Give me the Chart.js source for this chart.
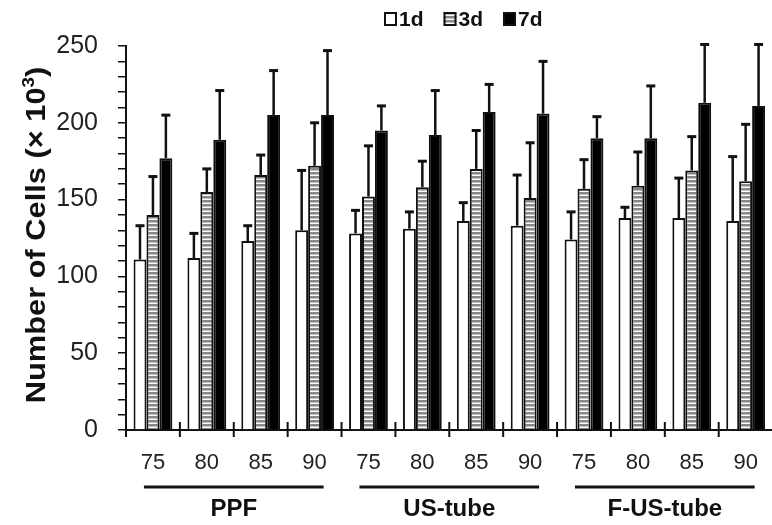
<!DOCTYPE html>
<html>
<head>
<meta charset="utf-8">
<script src="https://cdn.jsdelivr.net/npm/chart.js@4"></script>
<style>
  html, body { margin: 0; padding: 0; overflow: hidden; background: #fff; }
</style>
</head>
<body>
<canvas id="chart" width="778" height="525"></canvas>
<script>
// data
const categories = ['75', '80', '85', '90', '75', '80', '85', '90', '75', '80', '85', '90'];
const groups = ['PPF', 'US-tube', 'F-US-tube'];
const seriesNames = ['1d', '3d', '7d'];
const day1 = [111, 112, 123, 130, 128, 131, 136, 133, 124, 138, 138, 136];
const day1Err = [22, 16, 10, 39, 15, 11, 12, 33, 18, 7, 26, 42];
const day3 = [140, 155, 166, 172, 152, 158, 170, 151, 157, 159, 169, 162];
const day3Err = [25, 15, 13, 28, 33, 17, 25, 36, 19, 22, 22, 37];
const day7 = [177, 189, 205, 205, 195, 192, 207, 206, 190, 190, 213, 211];
const day7Err = [28, 32, 29, 42, 16, 29, 18, 34, 14, 34, 38, 40];
const yTicks = [0, 50, 100, 150, 200, 250];

const FONT = "'Liberation Sans', Arial, sans-serif";
Chart.defaults.font.family = FONT;

// horizontal stripes for the 3d bars
function stripes() {
    const c = document.createElement('canvas');
    c.width = 4; c.height = 4;
    const g = c.getContext('2d');
    g.fillStyle = '#fff'; g.fillRect(0, 0, 4, 4);
    g.fillStyle = '#888'; g.fillRect(0, 0, 4, 2);
    g.fillStyle = '#c0c0c0'; g.fillRect(0, 2, 4, 1);
    return g.createPattern(c, 'repeat');
}
const stripeFill = stripes();

const extras = {
    id: 'extras',
    afterDatasetsDraw(chart) {
        // upward error bars
        const ctx = chart.ctx, y = chart.scales.y;
        ctx.save();
        ctx.strokeStyle = '#111';
        chart.data.datasets.forEach((ds, d) => {
            chart.getDatasetMeta(d).data.forEach((bar, i) => {
                const top = y.getPixelForValue(ds.data[i] + ds.errors[i]);
                ctx.lineWidth = 2.5;
                ctx.beginPath(); ctx.moveTo(bar.x, bar.y); ctx.lineTo(bar.x, top); ctx.stroke();
                ctx.lineWidth = 3;
                ctx.beginPath(); ctx.moveTo(bar.x - 4.5, top); ctx.lineTo(bar.x + 4.5, top); ctx.stroke();
            });
        });
        ctx.restore();
    },
    afterDraw(chart) {
        const ctx = chart.ctx, x = chart.scales.x, area = chart.chartArea;
        const half = (x.getPixelForValue(1) - x.getPixelForValue(0)) / 2;
        ctx.save();
        ctx.strokeStyle = '#111';
        ctx.fillStyle = '#111';

        // category separators crossing the x axis
        ctx.lineWidth = 2;
        for (let i = 0; i < categories.length; i++) {
            const px = x.getPixelForValue(i) - half;
            ctx.beginPath(); ctx.moveTo(px, area.bottom - 8); ctx.lineTo(px, area.bottom + 7); ctx.stroke();
        }

        // group lines and names
        ctx.font = 'bold 24px ' + FONT;
        ctx.textAlign = 'center';
        ctx.textBaseline = 'alphabetic';
        groups.forEach((name, g) => {
            const x0 = x.getPixelForValue(g * 4) - 9;
            const x1 = x.getPixelForValue(g * 4 + 3) + 9;
            ctx.lineWidth = 3;
            ctx.beginPath(); ctx.moveTo(x0, 487); ctx.lineTo(x1, 487); ctx.stroke();
            ctx.fillText(name, (x0 + x1) / 2, 516);
        });

        // legend
        ctx.font = 'bold 21px ' + FONT;
        ctx.textAlign = 'left';
        let lx = 384;
        chart.data.datasets.forEach((ds) => {
            ctx.fillStyle = ds.backgroundColor;
            ctx.fillRect(lx, 12, 13, 14);
            ctx.lineWidth = 2;
            ctx.strokeRect(lx + 1, 13, 11, 12);
            ctx.fillStyle = '#111';
            ctx.fillText(ds.label, lx + 15, 26);
            lx += 15 + ctx.measureText(ds.label).width + 20;
        });

        // y axis title with superscript
        ctx.translate(35, 235);
        ctx.rotate(-Math.PI / 2);
        ctx.scale(1.1, 1);
        const main = 'Number of Cells (\u00d7 10', sup = '3', close = ')';
        ctx.font = 'bold 28px ' + FONT;
        const wMain = ctx.measureText(main).width, wClose = ctx.measureText(close).width;
        ctx.font = 'bold 17px ' + FONT;
        const wSup = ctx.measureText(sup).width;
        let tx = -(wMain + wSup + wClose) / 2;
        ctx.font = 'bold 28px ' + FONT;
        ctx.fillText(main, tx, 10);
        ctx.font = 'bold 17px ' + FONT;
        ctx.fillText(sup, tx + wMain, -1);
        ctx.font = 'bold 28px ' + FONT;
        ctx.fillText(close, tx + wMain + wSup, 10);
        ctx.restore();
    }
};

const bar = { borderColor: '#111', borderWidth: 2, categoryPercentage: 0.72, barPercentage: 1 };

new Chart(document.getElementById('chart'), {
    type: 'bar',
    data: {
        labels: categories,
        datasets: [
            { ...bar, label: seriesNames[0], data: day1, errors: day1Err, backgroundColor: '#ffffff' },
            { ...bar, label: seriesNames[1], data: day3, errors: day3Err, backgroundColor: stripeFill },
            { ...bar, label: seriesNames[2], data: day7, errors: day7Err, backgroundColor: '#000000' }
        ]
    },
    options: {
        responsive: false,
        animation: false,
        layout: { padding: { top: 46, right: 3, bottom: 0, left: 0 } },
        plugins: { legend: { display: false }, tooltip: { enabled: false } },
        scales: {
            x: {
                offset: true,
                grid: { display: false, drawTicks: false },
                border: { display: true, color: '#111', width: 2 },
                ticks: { font: { size: 22 }, color: '#222', padding: 20, autoSkip: false, maxRotation: 0 },
                afterFit(s) { s.height = 95; }
            },
            y: {
                min: 0,
                max: 250,
                grid: { drawOnChartArea: false, drawTicks: true, tickLength: 8, color: '#111', lineWidth: 1.5 },
                border: { display: true, color: '#111', width: 2 },
                ticks: {
                    stepSize: 10, autoSkip: false, font: { size: 25 }, color: '#222', padding: 20,
                    callback: v => yTicks.includes(v) ? v : ''
                },
                afterFit(s) { s.width = 126; }
            }
        }
    },
    plugins: [extras]
});
</script>
</body>
</html>
